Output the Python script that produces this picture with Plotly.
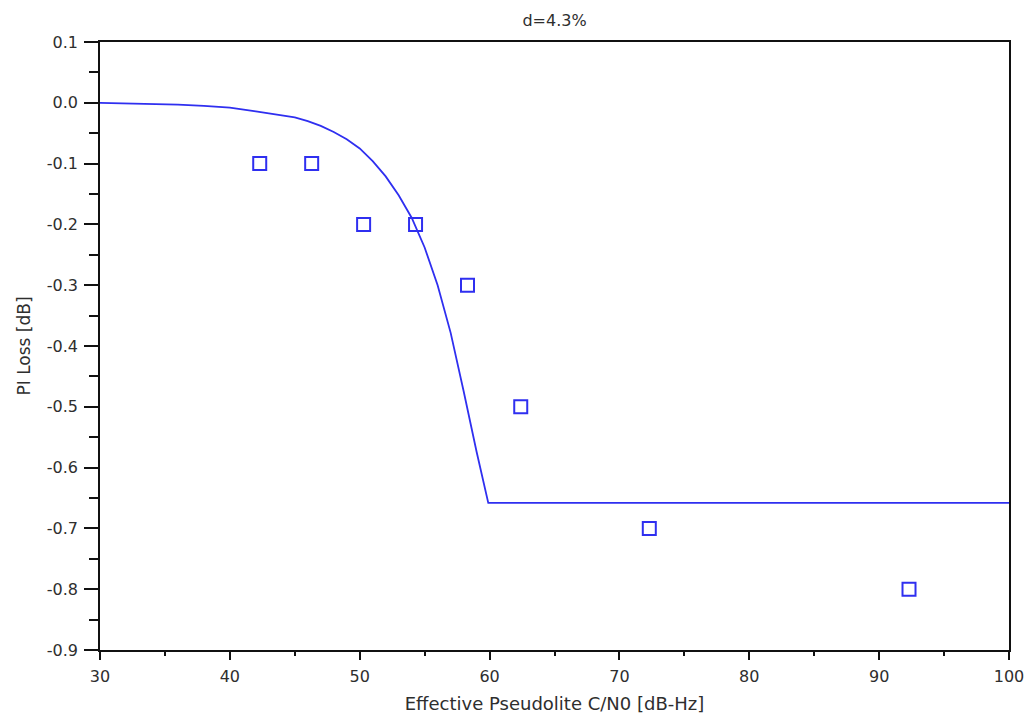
import plotly.graph_objects as go

# Measured PI loss at several effective pseudolite C/N0 levels
meas_cn0 = [42.3, 46.3, 50.3, 54.3, 58.3, 62.4, 72.3, 92.3]
meas_loss = [-0.1, -0.1, -0.2, -0.2, -0.3, -0.5, -0.7, -0.8]

# Predicted PI loss curve (d = 4.3 %), flat beyond the saturation point
model_cn0 = [30, 33, 36, 38, 40, 42, 43, 44, 45, 46, 47, 48, 49, 50, 51, 52,
             53, 54, 55, 56, 57, 58, 59, 59.9, 100]
model_loss = [0.0, -0.001, -0.003, -0.005, -0.008, -0.014, -0.017, -0.020, -0.024,
              -0.030, -0.038, -0.048, -0.060, -0.075, -0.096, -0.121, -0.152,
              -0.189, -0.238, -0.300, -0.378, -0.474, -0.574, -0.658, -0.658]

x_ticks = [30, 40, 50, 60, 70, 80, 90, 100]
x_ticklabels = ["30", "40", "50", "60", "70", "80", "90", "100"]
y_ticks = [0.1, 0.0, -0.1, -0.2, -0.3, -0.4, -0.5, -0.6, -0.7, -0.8, -0.9]
y_ticklabels = ["0.1", "0.0", "-0.1", "-0.2", "-0.3", "-0.4", "-0.5", "-0.6",
                "-0.7", "-0.8", "-0.9"]

BLUE = "#2f2ff0"
TEXT = "#2e2e2e"
FONT = "DejaVu Sans"

fig = go.Figure()
fig.add_trace(go.Scatter(
    x=model_cn0, y=model_loss, mode="lines",
    line=dict(color=BLUE, width=1.8), showlegend=False, hoverinfo="skip"))
fig.add_trace(go.Scatter(
    x=meas_cn0, y=meas_loss, mode="markers",
    marker=dict(symbol="square-open", size=13, color=BLUE, line=dict(width=2, color=BLUE)),
    showlegend=False))

axis_common = dict(
    showline=True, linecolor="#111111", linewidth=1.5, mirror=True,
    showgrid=False, zeroline=False, ticks="outside", tickcolor="#111111",
    tickwidth=1.5, tickfont=dict(family=FONT, size=16, color=TEXT),
)

fig.update_xaxes(
    **axis_common, range=[30, 100], tickvals=x_ticks, ticktext=x_ticklabels,
    ticklen=8, ticklabelstandoff=3,
    minor=dict(ticks="outside", dtick=5, tick0=30, ticklen=4, tickwidth=1.5,
               tickcolor="#111111", showgrid=False),
    title=dict(text="Effective Pseudolite C/N0 [dB-Hz]",
               font=dict(family=FONT, size=18, color=TEXT), standoff=12),
)
fig.update_yaxes(
    **axis_common, range=[-0.9, 0.1], tickvals=y_ticks, ticktext=y_ticklabels,
    ticklen=14, ticklabelstandoff=3,
    minor=dict(ticks="outside", dtick=0.05, tick0=0.1, ticklen=9, tickwidth=1.5,
               tickcolor="#111111", showgrid=False),
    title=dict(text="PI Loss [dB]", font=dict(family=FONT, size=17, color=TEXT), standoff=12),
)

fig.update_layout(
    width=1036, height=723,
    margin=dict(l=100, r=22, t=42, b=70),
    paper_bgcolor="white", plot_bgcolor="white",
    title=dict(text="d=4.3%", x=0.5, xref="paper", xanchor="center",
               y=1 - 20 / 723, yref="container", yanchor="middle",
               font=dict(family=FONT, size=16, color=TEXT)),
)

fig.write_html("out.html")
